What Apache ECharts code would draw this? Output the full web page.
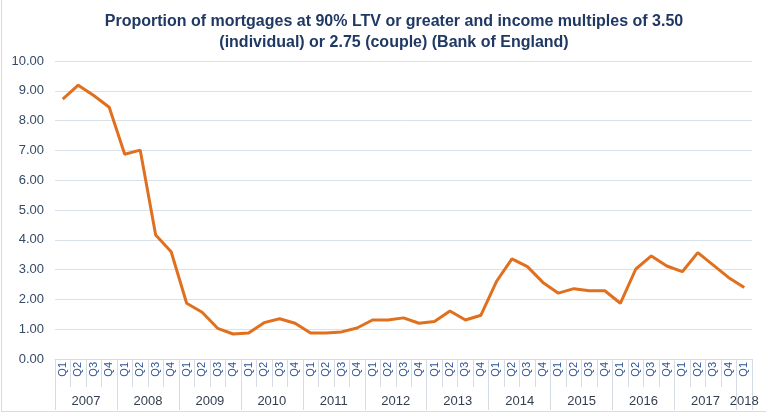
<!DOCTYPE html>
<html>
<head>
<meta charset="utf-8">
<script src="https://cdn.jsdelivr.net/npm/echarts@6/dist/echarts.min.js"></script>
<style>
html,body{margin:0;padding:0;background:#fff;}
#c{width:766px;height:418px;}
#frame{position:absolute;left:1px;top:-2px;width:780px;height:414px;border:1px solid #D6DCE4;box-sizing:border-box;pointer-events:none;}
</style>
</head>
<body>
<div id="c"></div>
<div id="frame"></div>
<script>
// Quarter categories (2007 Q1 .. 2018 Q1)
const quarters = [
  'Q1','Q2','Q3','Q4', 'Q1','Q2','Q3','Q4', 'Q1','Q2','Q3','Q4',
  'Q1','Q2','Q3','Q4', 'Q1','Q2','Q3','Q4', 'Q1','Q2','Q3','Q4',
  'Q1','Q2','Q3','Q4', 'Q1','Q2','Q3','Q4', 'Q1','Q2','Q3','Q4',
  'Q1','Q2','Q3','Q4', 'Q1','Q2','Q3','Q4', 'Q1'
];
const years = ['2007','2008','2009','2010','2011','2012','2013','2014','2015','2016','2017','2018'];
const quartersPerYear = [4,4,4,4,4,4,4,4,4,4,4,1];
// Proportion of mortgages (%)
const values = [
  8.72, 9.19, 8.84, 8.45,
  6.87, 7.01, 4.16, 3.60,
  1.87, 1.57, 1.03, 0.84,
  0.87, 1.22, 1.35, 1.20,
  0.87, 0.87, 0.91, 1.04,
  1.31, 1.31, 1.38, 1.20,
  1.26, 1.61, 1.31, 1.47,
  2.60, 3.36, 3.10, 2.57,
  2.21, 2.36, 2.29, 2.29,
  1.87, 3.02, 3.46, 3.12,
  2.93, 3.57, 3.15, 2.73,
  2.40
];
const yTicks = [0,1,2,3,4,5,6,7,8,9,10];

// year group boundaries and centres (in category units)
const yearBounds = [0];
const yearCentres = [];
let acc = 0;
quartersPerYear.forEach(n => { yearCentres.push(acc + n / 2); acc += n; yearBounds.push(acc); });
const centreToYear = {};
yearCentres.forEach((c, i) => { centreToYear[c] = years[i]; });

const chart = echarts.init(document.getElementById('c'), null, {renderer: 'canvas'});
chart.setOption({
  animation: false,
  backgroundColor: '#ffffff',
  title: {
    text: 'Proportion of mortgages at 90% LTV or greater and income multiples of 3.50\n(individual) or 2.75 (couple) (Bank of England)',
    left: 389, top: 6, textAlign: 'center',
    textStyle: {fontFamily: 'Liberation Sans, Arial, sans-serif', fontSize: 16, fontWeight: 'bold', color: '#1F3864', lineHeight: 21}
  },
  grid: {left: 55, right: 14, top: 61, bottom: 59, containLabel: false},
  xAxis: [
    {
      type: 'category', data: quarters, boundaryGap: true, position: 'bottom',
      axisLine: {show: true, lineStyle: {color: '#D6DCE4', width: 1}},
      axisTick: {show: true, interval: 0, length: 28, lineStyle: {color: '#D6DCE4'}},
      axisLabel: {interval: 0, rotate: 90, margin: 3, fontFamily: 'Liberation Sans, Arial, sans-serif', fontSize: 11, color: '#2F5597'},
      splitLine: {show: false}
    },
    {
      type: 'value', min: 0, max: quarters.length, position: 'bottom', gridIndex: 0,
      axisLine: {show: false},
      axisTick: {show: true, customValues: yearBounds, length: 51, lineStyle: {color: '#D6DCE4'}},
      axisLabel: {show: true, customValues: yearCentres, margin: 36, fontFamily: 'Liberation Sans, Arial, sans-serif', fontSize: 13, color: '#333F50',
        formatter: v => centreToYear[v] || ''},
      splitLine: {show: false}
    }
  ],
  yAxis: {
    type: 'value', min: yTicks[0], max: yTicks[yTicks.length - 1], interval: 1,
    axisLine: {show: false}, axisTick: {show: false},
    axisLabel: {margin: 11, fontFamily: 'Liberation Sans, Arial, sans-serif', fontSize: 13, color: '#354A66', formatter: v => v.toFixed(2)},
    splitLine: {lineStyle: {color: '#D9E1EA', width: 1}}
  },
  series: [{
    type: 'line', data: values, xAxisIndex: 0, showSymbol: false, symbol: 'none',
    lineStyle: {color: '#E0701E', width: 3}, itemStyle: {color: '#E0701E'}
  }]
});
</script>
</body>
</html>
